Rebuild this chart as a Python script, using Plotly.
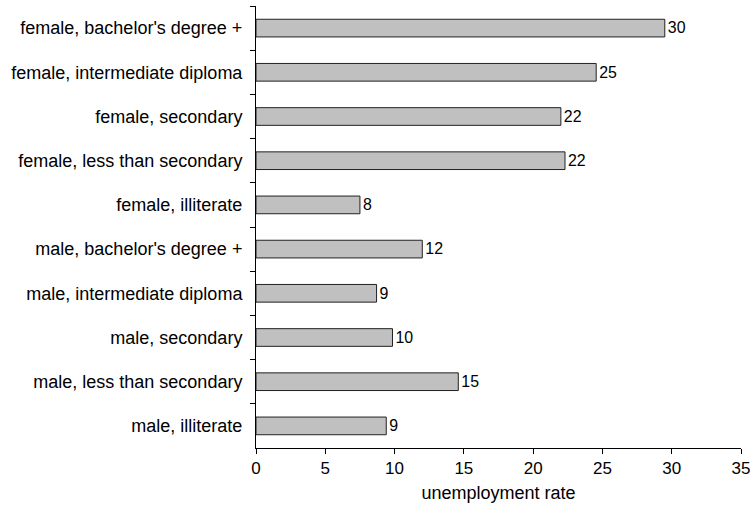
import plotly.graph_objects as go

categories = [
    "female, bachelor's degree +",
    "female, intermediate diploma",
    "female, secondary",
    "female, less than secondary",
    "female, illiterate",
    "male, bachelor's degree +",
    "male, intermediate diploma",
    "male, secondary",
    "male, less than secondary",
    "male, illiterate",
]
rates = [29.5, 24.55, 22.0, 22.3, 7.5, 12.0, 8.7, 9.85, 14.6, 9.4]
x_ticks = [0, 5, 10, 15, 20, 25, 30, 35]

font = "Liberation Sans, Arial, sans-serif"

fig = go.Figure(
    go.Bar(
        x=rates,
        y=categories,
        orientation="h",
        width=0.4,
        marker=dict(color="#c0c0c0", line=dict(color="#222222", width=1)),
        texttemplate="%{x:.0f}",
        textposition="outside",
        textfont=dict(family=font, size=18, color="black"),
        cliponaxis=False,
        hoverinfo="skip",
    )
)

fig.update_layout(
    width=753,
    height=517,
    margin=dict(l=256, r=12, t=6, b=69, autoexpand=False),
    plot_bgcolor="white",
    paper_bgcolor="white",
    showlegend=False,
    font=dict(family=font, size=18, color="black"),
    xaxis=dict(
        range=[0, 35],
        tickvals=x_ticks,
        ticks="outside",
        ticklen=5,
        tickcolor="black",
        showline=True,
        linecolor="black",
        linewidth=1,
        showgrid=False,
        zeroline=False,
        automargin=False,
        tickfont=dict(family=font, size=17, color="black"),
        title=dict(text="unemployment rate", font=dict(family=font, size=18, color="black"), standoff=8),
    ),
    yaxis=dict(
        autorange="reversed",
        type="category",
        tickson="boundaries",
        ticks="outside",
        ticklen=5,
        tickcolor="black",
        showline=True,
        linecolor="black",
        linewidth=1,
        showgrid=False,
        automargin=False,
        tickfont=dict(family=font, size=18, color="black"),
        ticklabelstandoff=9,
    ),
)

fig.write_html(
    "out.html",
    config={"displayModeBar": False, "staticPlot": True},
    post_script="document.body.style.margin='0';document.body.style.overflow='hidden';",
)
